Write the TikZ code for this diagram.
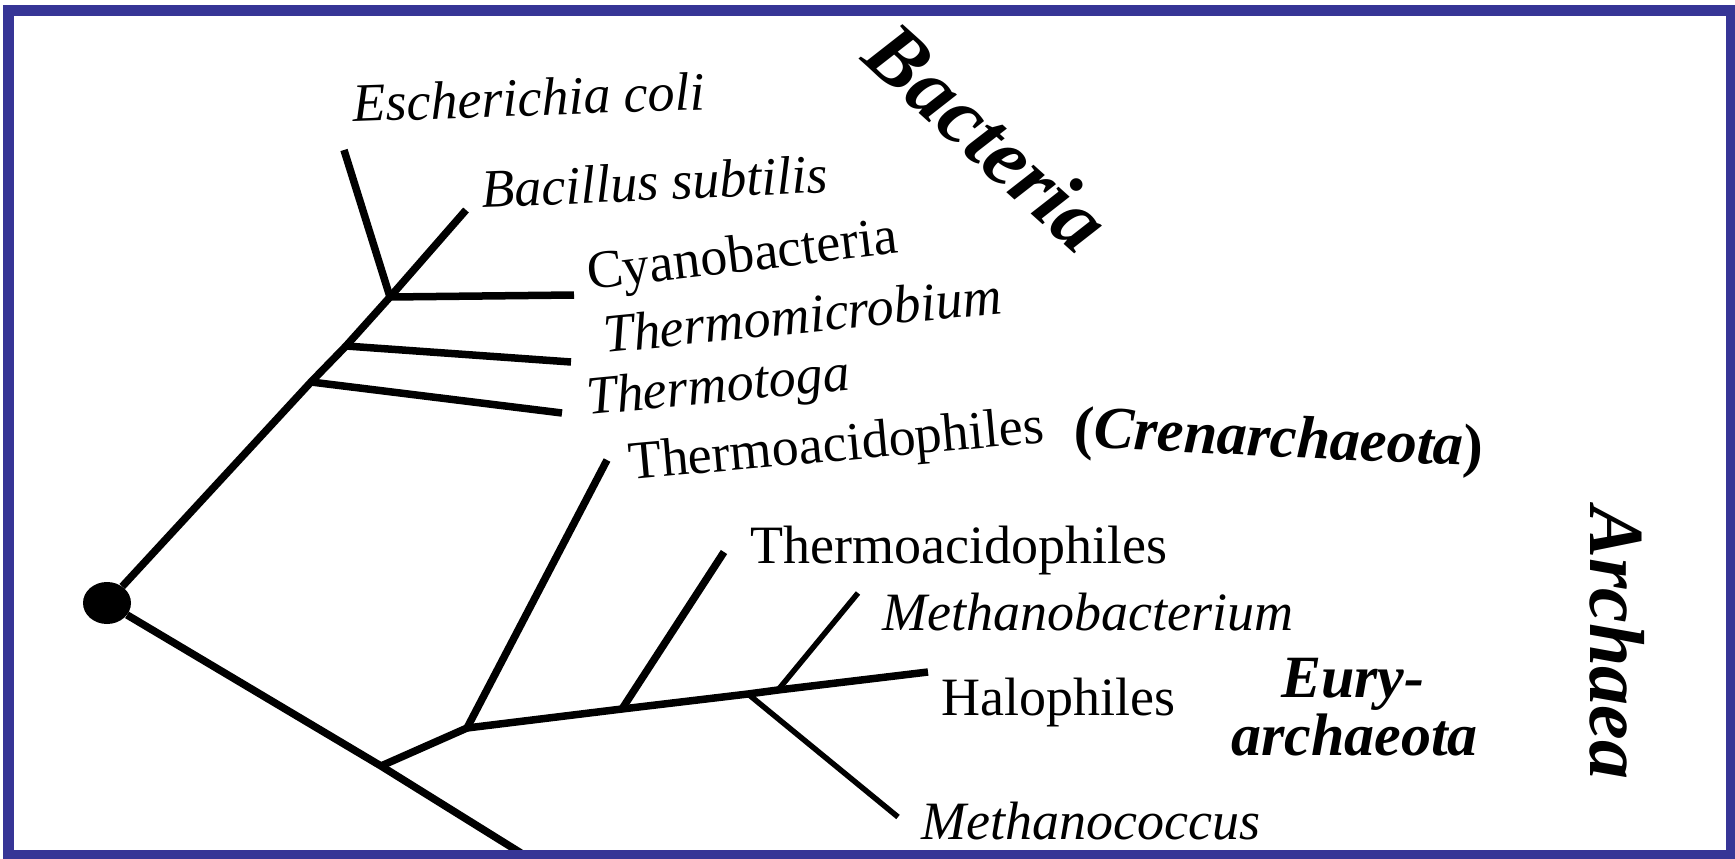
\documentclass[tikz,border=0pt]{standalone}
\usepackage{fontspec}
\setmainfont{Liberation Serif}
\usetikzlibrary{shapes.geometric}
\definecolor{frameblue}{RGB}{54,53,150}
\begin{document}
\begin{tikzpicture}[x=1pt,y=-1pt,
  branch/.style={line width=7.5pt, line join=round},
  slimbranch/.style={line width=5.5pt, line join=round},
  lab/.style={inner sep=0pt, anchor=base west, font=\fontsize{54}{60}\selectfont},
  ilab/.style={lab, font=\fontsize{54}{60}\selectfont\itshape},
  bilab/.style={lab, font=\fontsize{60}{66}\selectfont\bfseries\itshape},
  domainlab/.style={inner sep=0pt, anchor=center, font=\fontsize{84}{90}\selectfont\bfseries\itshape},
  rootdot/.style={ellipse, fill=black, inner sep=0pt, minimum width=48pt, minimum height=42pt}]
\useasboundingbox (0,0) rectangle (1735,859);
\fill[white] (0,0) rectangle (1735,859);
% root and junctions
\node[rootdot] (root) at (107,603) {};
\coordinate (bA) at (390,297);
\coordinate (bTm) at (346,346);
\coordinate (bTt) at (311,382);
\coordinate (eEc) at (344,150);
\coordinate (eBs) at (466,210);
\coordinate (eCy) at (574,295);
\coordinate (eTm) at (571,362);
\coordinate (eTt) at (562,413);
\coordinate (bAr) at (381,766);
\coordinate (eBot) at (545,868);
\coordinate (bCr) at (467,728);
\coordinate (eCr) at (607,460);
\coordinate (bTa) at (622,709);
\coordinate (eTa) at (724,552);
\coordinate (bMc) at (748,694);
\coordinate (eMc) at (898,817);
\coordinate (bMb) at (778,690);
\coordinate (eMb) at (858,593);
\coordinate (eHa) at (928,672);
% bacteria
\draw[branch] (root) -- (bTt) -- (bTm) -- (bA) -- (eBs);
\draw[branch] (eEc) -- (bA) -- (eCy);
\draw[branch] (bTm) -- (eTm);
\draw[branch] (bTt) -- (eTt);
% archaea
\draw[branch] (root) -- (bAr) -- (eBot);
\draw[branch] (bAr) -- (bCr) -- (eCr);
\draw[branch] (bCr) -- (bTa) -- (bMc) -- (bMb) -- (eHa);
\draw[branch] (bTa) -- (eTa);
\draw[slimbranch] (bMb) -- (eMb);
\draw[slimbranch] (bMc) -- (eMc);
% labels
\node[ilab, rotate=2] (tEc) at (353,122) {Escherichia coli};
\node[ilab, rotate=2.6] (tBs) at (482,208) {Bacillus subtilis};
\node[lab, rotate=6.8] (tCy) at (589,290) {Cyanobacteria};
\node[ilab, rotate=5.7] (tTm) at (605,353) {Thermomicrobium};
\node[ilab, rotate=5.5] (tTt) at (588,415) {Thermotoga};
\node[lab, rotate=5.2] (tCr) at (630,480) {Thermoacidophiles};
\node[bilab, rotate=-2.7] (tCrn) at (1073,447) {\upshape(\itshape Crenarchaeota\upshape)};
\node[lab] (tTa) at (750,563) {Thermoacidophiles};
\node[ilab] (tMb) at (882,630) {Methanobacterium};
\node[lab] (tHa) at (941,715) {Halophiles};
\node[bilab] (tEu1) at (1281,697) {Eury-};
\node[bilab] (tEu2) at (1231,755) {archaeota};
\node[ilab] (tMc) at (921,839) {Methanococcus};
\node[domainlab, rotate=-42] (tBac) at (988,137) {Bacteria};
\node[domainlab, rotate=-90, font=\fontsize{78}{84}\selectfont\bfseries\itshape] (tArc) at (1617,643) {Archaea};
% frame
\draw[frameblue, line width=11pt] (8.5,11) rectangle (1731,855);
\end{tikzpicture}
\end{document}
